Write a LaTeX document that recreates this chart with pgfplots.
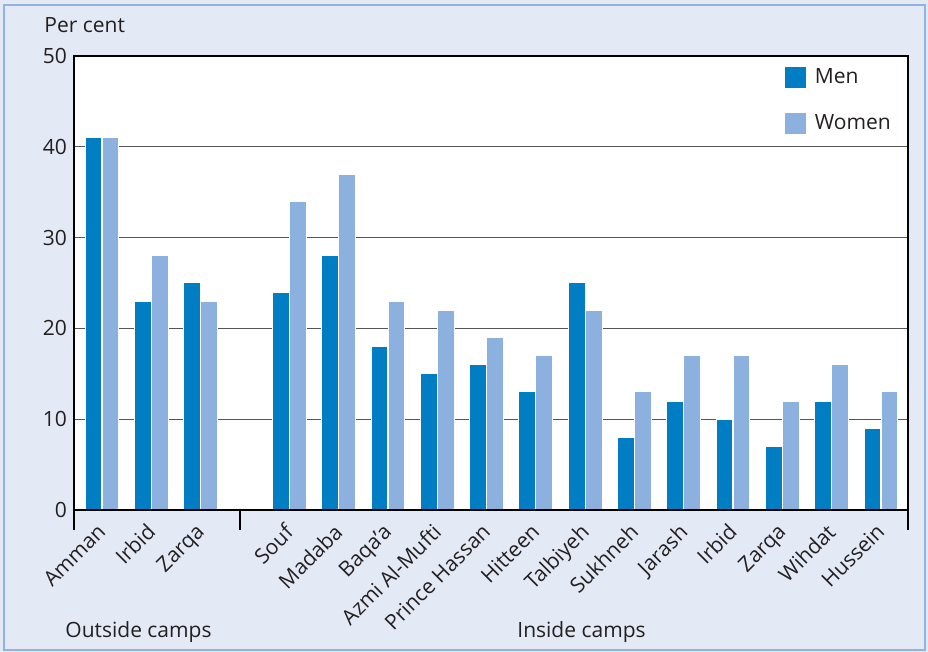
\documentclass[border=0pt]{standalone}
\usepackage{pgfplots}
\pgfplotsset{compat=1.18}
\usepackage{fontspec}
\setmainfont{Open Sans}
\definecolor{bgblue}{HTML}{E3EAF6}
\definecolor{frameblue}{HTML}{8FB4E3}
\definecolor{menblue}{HTML}{007DC3}
\definecolor{womenblue}{HTML}{8DB1DE}
\definecolor{txt}{HTML}{231F20}
\definecolor{gridgray}{HTML}{555555}

\begin{document}
\begin{tikzpicture}[x=1pt,y=1pt]
\fill[bgblue] (0,0) rectangle (464,326);
\draw[frameblue, line width=1pt] (2,1.2) rectangle (462.5,323.5);
\path[use as bounding box] (0,0) rectangle (464,326);

\begin{axis}[
    at={(37pt,71pt)}, anchor=south west,
    scale only axis,
    width=417pt, height=227pt,
    xmin=-0.57, xmax=16.35,
    ymin=0, ymax=50,
    ybar,
    axis background/.style={fill=white},
    axis line style={black, line width=0.8pt},
    xtick pos=bottom, ytick pos=left,
    ytick={0,10,20,30,40,50},
    ymajorgrids,
    grid style={gridgray, line width=0.5pt},
    major tick length=0pt,
    tick label style={font=\fontsize{10.5}{12}\selectfont, text=txt},
    /pgf/number format/assume math mode=true,
    xtick={0,1,2,3.8,4.8,5.8,6.8,7.8,8.8,9.8,10.8,11.8,12.8,13.8,14.8,15.8},
    xticklabels={Amman,Irbid,Zarqa,Souf,Madaba,Baqa’a,Azmi Al-Mufti,Prince Hassan,Hitteen,Talbiyeh,Sukhneh,Jarash,Irbid,Zarqa,Wihdat,Hussein},
    xticklabel style={xshift=-3pt, yshift=-6pt, rotate=45, anchor=north east, inner sep=0pt},
    extra x ticks={-0.57,2.8,16.35},
    extra x tick labels={,,},
    extra x tick style={major tick length=10pt, tick align=outside, grid=none,
        tick style={black, line width=0.8pt}},
    legend style={at={(0.8525,0.982)}, anchor=north west, draw=none, fill=none,
        inner sep=0pt, row sep=10pt, font=\fontsize{10.5}{12}\selectfont,
        text=txt, cells={anchor=west}},
    legend image code/.code={\fill[#1, draw=none] (0pt,-5.25pt) rectangle (10.5pt,5.25pt);
        \path (10.5pt,0pt) -- (12.5pt,0pt);},
]
\addplot[bar width=0.34, bar shift=-0.1725, fill=menblue, draw=white, line width=0.5pt] coordinates {
    (0,41) (1,23) (2,25) (3.8,24) (4.8,28) (5.8,18) (6.8,15) (7.8,16)
    (8.8,13) (9.8,25) (10.8,8) (11.8,12) (12.8,10) (13.8,7) (14.8,12) (15.8,9)
};
\addlegendentry{Men}
\addplot[bar width=0.34, bar shift=0.1725, fill=womenblue, draw=white, line width=0.5pt] coordinates {
    (0,41) (1,28) (2,23) (3.8,34) (4.8,37) (5.8,23) (6.8,22) (7.8,19)
    (8.8,17) (9.8,22) (10.8,13) (11.8,17) (12.8,17) (13.8,12) (14.8,16) (15.8,13)
};
\addlegendentry{Women}
\draw[black, line width=0.8pt] (rel axis cs:0,0) rectangle (rel axis cs:1,1);
\end{axis}

\node[anchor=base west, text=txt, font=\fontsize{10.5}{12}\selectfont, inner sep=0pt] at (22,309.5) {Per cent};
\node[anchor=base west, text=txt, font=\fontsize{10.5}{12}\selectfont, inner sep=0pt] at (32.5,7) {Outside camps};
\node[anchor=base west, text=txt, font=\fontsize{10.5}{12}\selectfont, inner sep=0pt] at (258.5,7) {Inside camps};
\end{tikzpicture}
\end{document}
